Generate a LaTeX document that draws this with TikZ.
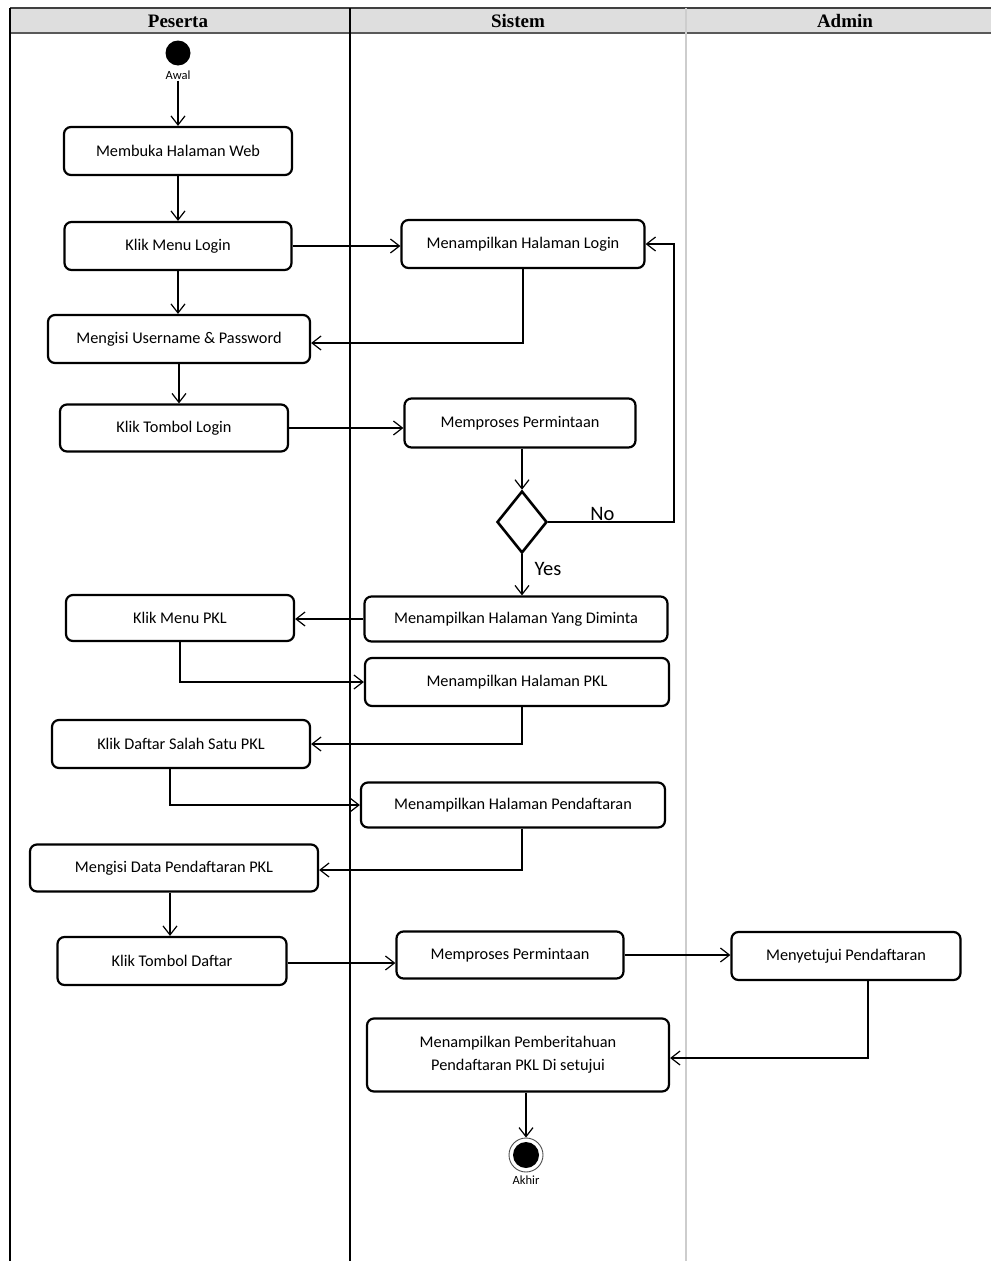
\documentclass[tikz,border=0pt]{standalone}
\usepackage{fontspec}
\setmainfont{Carlito}
\newfontfamily\judulfont{Liberation Serif}
\usepackage{tikz}
\usetikzlibrary{shapes.geometric, arrows.meta, positioning, calc}
\definecolor{abuHeader}{RGB}{222,222,222}
\definecolor{abuGaris}{RGB}{205,205,205}
\tikzset{
  ad/act/.style={rectangle, rounded corners=7pt, draw=black, fill=white,
    line width=2.2pt, minimum height=48pt,
    font=\fontsize{16.3}{23}\selectfont, align=center, inner sep=2pt},
  ad/dec/.style={diamond, draw=black, fill=white, line width=2.6pt,
    minimum width=50pt, minimum height=62pt, inner sep=0pt},
  ad/start/.style={circle, fill=black, minimum size=25pt, inner sep=0pt},
  ad/end/.style={circle, draw=black!70, line width=0.9pt, minimum size=34pt,
    inner sep=0pt, path picture={\fill (path picture bounding box.center) circle (13pt);}},
  ad/arr/.style={-{Straight Barb[length=9pt,width=14pt]}, line width=1.2pt},
  ad/lbl/.style={font=\fontsize{20.5}{23}\selectfont, inner sep=1pt},
  ad/kecil/.style={font=\fontsize{12.5}{14}\selectfont, inner sep=1pt},
  ad/lane/.style={font=\judulfont\bfseries\fontsize{19}{22}\selectfont, inner sep=0pt}
}

\begin{document}
\begin{tikzpicture}[x=1pt, y=-1pt]
  \useasboundingbox (0,0) rectangle (991,1261);
  \fill[abuHeader] (10,8) rectangle (991,33);
  \draw[line width=1.5pt, black!75] (10,8) -- (991,8);
  \draw[line width=2.6pt, black!65] (10,33) -- (991,33);
  \draw[line width=1.5pt] (10,8) -- (10,1261);
  \draw[line width=1.5pt] (350,8) -- (350,1261);
  \draw[line width=1.2pt, abuGaris] (686,8) -- (686,1261);
  \node[ad/lane] (hp) at (178,21) {Peserta};
  \node[ad/lane] (hs) at (518,21) {Sistem};
  \node[ad/lane] (ha) at (845,21) {Admin};

  \node[ad/start] (s) at (178,53) {};
  \node[ad/kecil] (awal) at (178,75) {Awal};
  \node[ad/act, minimum width=228pt] (l1) at (178,151) {Membuka Halaman Web};
  \node[ad/act, minimum width=227pt] (l2) at (178,246) {Klik Menu Login};
  \node[ad/act, minimum width=262pt] (l3) at (179,339) {Mengisi Username \& Password};
  \node[ad/act, minimum width=228pt, minimum height=47pt] (l4) at (174,428) {Klik Tombol Login};
  \node[ad/act, minimum width=243pt] (s1) at (523,244) {Menampilkan Halaman Login};
  \node[ad/act, minimum width=231pt, minimum height=49pt] (s2) at (520,423) {Memproses Permintaan};
  \node[ad/dec] (d1) at (522,522) {};
  \coordinate (nk) at (674,522);
  \node[ad/act, minimum width=303pt, minimum height=45pt] (s3) at (516,619) {Menampilkan Halaman Yang Diminta};
  \node[ad/act, minimum width=228pt, minimum height=46pt] (l5) at (180,618) {Klik Menu PKL};
  \node[ad/act, minimum width=304pt] (s4) at (517,682) {Menampilkan Halaman PKL};
  \node[ad/act, minimum width=258pt] (l6) at (181,744) {Klik Daftar Salah Satu PKL};
  \node[ad/act, minimum width=304pt, minimum height=45pt] (s5) at (513,805) {Menampilkan Halaman Pendaftaran};
  \node[ad/act, minimum width=288pt, minimum height=47pt] (l7) at (174,868) {Mengisi Data Pendaftaran PKL};
  \node[ad/act, minimum width=229pt] (l8) at (172,961) {Klik Tombol Daftar};
  \node[ad/act, minimum width=227pt, minimum height=47pt] (s6) at (510,955) {Memproses Permintaan};
  \node[ad/act, minimum width=229pt] (a1) at (846,956) {Menyetujui Pendaftaran};
  \node[ad/act, minimum width=302pt, minimum height=73pt] (s7) at (518,1055) {Menampilkan Pemberitahuan\\Pendaftaran PKL Di setujui};
  \node[ad/end] (e) at (526,1155) {};
  \node[ad/kecil] (akhir) at (526,1180) {Akhir};

  \draw[ad/arr] (awal.south) -- (l1.north);
  \draw[ad/arr] (l1) -- (l2);
  \draw[ad/arr] (l2.east) -- (l2.east -| s1.west);
  \draw[ad/arr] (l2.south) -- (l2.south |- l3.north);
  \draw[ad/arr] (s1.south) |- ([yshift=-4pt]l3.east);
  \draw[ad/arr] (l3.south) -- (l3.south |- l4.north);
  \draw[ad/arr] (l4.east) -- (l4.east -| s2.west);
  \draw[ad/arr] (d1.north |- s2.south) -- (d1.north);
  \draw[ad/arr] (d1.east) -- node[ad/lbl, above, pos=0.43]{No} (nk) |- (s1.east);
  \draw[ad/arr] (d1.south) -- node[ad/lbl, anchor=west, xshift=11pt, pos=0.35]{Yes} (d1.south |- s3.north);
  \draw[ad/arr] (s3.west) -- (s3.west -| l5.east);
  \draw[ad/arr] (l5.south) |- (s4.west);
  \draw[ad/arr] ([xshift=5pt]s4.south) |- (l6.east);
  \draw[ad/arr] ([xshift=-11pt]l6.south) |- (s5.west);
  \draw[ad/arr] ([xshift=9pt]s5.south) |- ([yshift=-2pt]l7.east);
  \draw[ad/arr] ([xshift=-4pt]l7.south) -- ([xshift=-4pt]l7.south |- l8.north);
  \draw[ad/arr] ([yshift=-2pt]l8.east) -- ([yshift=-2pt]l8.east -| s6.west);
  \draw[ad/arr] (s6.east) -- (s6.east -| a1.west);
  \draw[ad/arr] ([xshift=22pt]a1.south) |- ([yshift=-3pt]s7.east);
  \draw[ad/arr] ([xshift=8pt]s7.south) -- (e.north);
\end{tikzpicture}
\end{document}
